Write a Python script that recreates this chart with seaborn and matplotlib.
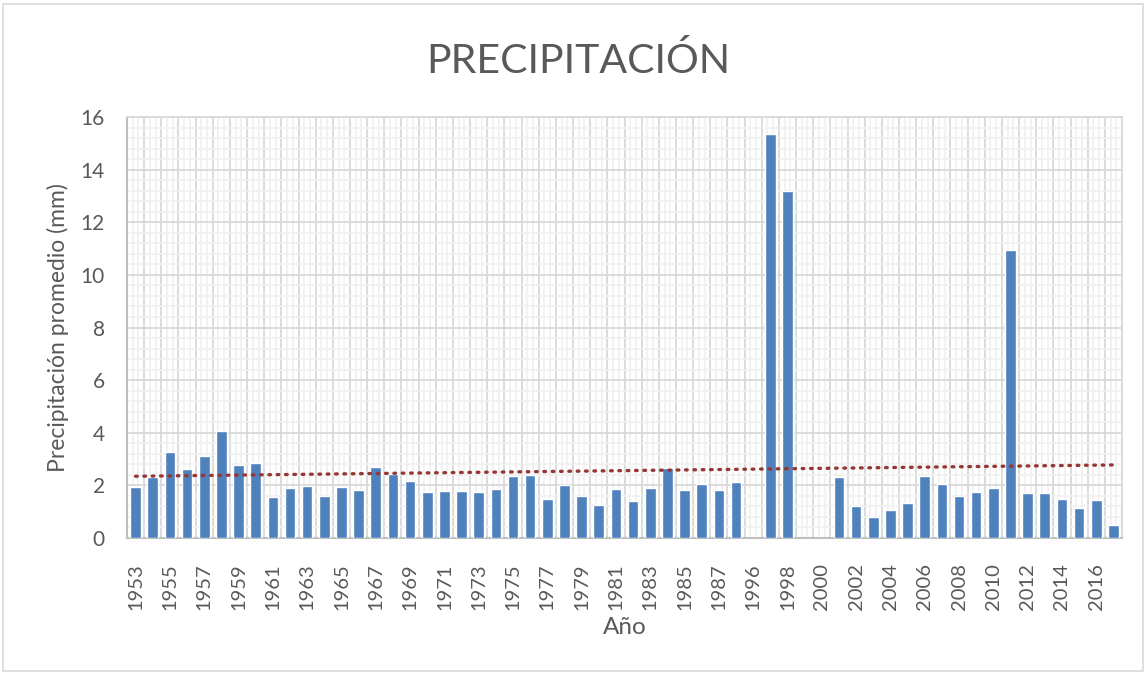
import numpy as np
import pandas as pd
import matplotlib
matplotlib.use("Agg")
import matplotlib.pyplot as plt
from matplotlib import ticker
from matplotlib.patches import Rectangle
import seaborn as sns

# Data (blank years have no bar)
years = [str(y) for y in range(1953, 1989)] + [str(y) for y in range(1996, 2018)]
precip = [
    1.93, 2.31, 3.26, 2.63, 3.13, 4.07, 2.76, 2.84, 1.55, 1.89,
    1.98, 1.60, 1.93, 1.84, 2.71, 2.44, 2.18, 1.75, 1.77, 1.77,
    1.75, 1.86, 2.36, 2.41, 1.49, 2.00, 1.61, 1.25, 1.87, 1.42,
    1.90, 2.67, 1.81, 2.06, 1.84, 2.12,
    np.nan, 15.37, 13.19, np.nan, np.nan, 2.32, 1.20, 0.81, 1.05, 1.32,
    2.37, 2.06, 1.61, 1.75, 1.89, 10.95, 1.71, 1.71, 1.49, 1.13,
    1.44, 0.51,
]

df = pd.DataFrame({"Año": years, "Precipitación": precip})
df["idx"] = np.arange(len(df))

# linear trendline like Excel (blank cells skipped)
ok = df["Precipitación"].notna()
coef = np.polyfit(df.loc[ok, "idx"] + 1, df.loc[ok, "Precipitación"], 1)
df["trend"] = np.polyval(coef, df["idx"] + 1)

sns.set_style("white")
plt.rcParams["font.family"] = ["Lato", "DejaVu Sans"]
txt = "#595959"
grid_major = "#D9D9D9"
grid_minor = "#F0F0F0"

fig = plt.figure(figsize=(11.46, 6.73), dpi=100)
ax = fig.add_axes([127 / 1146, 1 - 538 / 673, 995 / 1146, 421 / 673])

n = len(years)
# light vertical minor grid
for i in range(n):
    for f in (1 / 3, 2 / 3):
        ax.axvline(i - 0.5 + f, color=grid_minor, lw=1.2, zorder=0)

sns.barplot(data=df[ok], x="Año", y="Precipitación", order=years, color="#4F81BD",
            width=0.62, saturation=1, ax=ax, zorder=3)
ax.plot(df["idx"], df["trend"], color="#953735", lw=2.4, linestyle=(0, (0.5, 2.0)),
        dash_capstyle="round", zorder=4)

ax.set_xlim(-0.5, n - 0.5)
ax.set_ylim(0, 16)

# y axis: majors every 2, minors every 0.4
ax.yaxis.set_major_locator(ticker.MultipleLocator(2))
ax.yaxis.set_minor_locator(ticker.MultipleLocator(0.4))
ax.grid(axis="y", which="major", color=grid_major, lw=1.3, zorder=1)
ax.grid(axis="y", which="minor", color=grid_minor, lw=1.2, zorder=0)

# x axis: category boundaries as major ticks, labels at centres as minor
ax.set_xticks(np.arange(-0.5, n, 1.0))
ax.set_xticklabels([])
ax.set_xticks(np.arange(n), minor=True)
ax.set_xticklabels([y if i % 2 == 0 else "" for i, y in enumerate(years)],
                   minor=True, rotation=90)
ax.grid(axis="x", which="major", color=grid_major, lw=1.3, zorder=1)
ax.set_axisbelow(True)

ax.tick_params(axis="x", which="major", length=4, width=1.2, color="#BFBFBF", direction="out")
ax.tick_params(axis="x", which="minor", length=0, pad=18, labelsize=14.5, labelcolor=txt)
ax.tick_params(axis="y", which="major", length=4, width=1.2, color="#BFBFBF",
               direction="out", labelsize=15, labelcolor=txt, pad=12)
ax.tick_params(axis="y", which="minor", length=0)

for s in ["left", "bottom"]:
    ax.spines[s].set_color("#BFBFBF")
    ax.spines[s].set_linewidth(1.5)
for s in ["top", "right"]:
    ax.spines[s].set_color(grid_major)
    ax.spines[s].set_linewidth(1.3)

ax.set_xlabel("Año", fontsize=17.5, color=txt, labelpad=5)
ax.set_ylabel("Precipitación promedio (mm)", fontsize=16.5, color=txt, labelpad=8)
fig.text(578 / 1146, 1 - 73 / 673, "PRECIPITACIÓN", fontsize=29.5, color=txt,
         ha="center", va="baseline")

# chart area border
fig.patches.append(Rectangle((3 / 1146, 2 / 673), 1140 / 1146, 667 / 673,
                             transform=fig.transFigure, fill=False,
                             edgecolor="#D9D9D9", lw=1.2))

fig.savefig("out.png", dpi=100)
